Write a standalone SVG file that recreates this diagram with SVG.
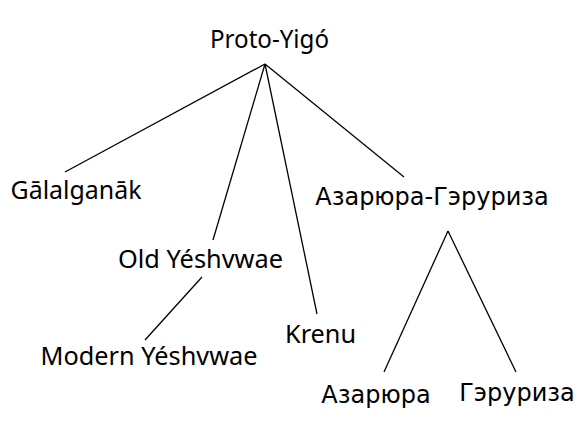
<svg xmlns="http://www.w3.org/2000/svg" width="580" height="427" viewBox="0 0 580 427">
<style>
text{font-family:"Noto Sans","Open Sans",sans-serif;font-size:25px;fill:#000;text-anchor:middle}
text.cy{font-family:"DejaVu Sans","Noto Sans",sans-serif;font-size:24px}
.edges line{stroke:#000;stroke-width:1.3;fill:none}
</style>
<rect width="580" height="427" fill="#fff"/>
<g class="edges" id="connectors">
<line x1="265" y1="64" x2="65" y2="172"/>
<line x1="265" y1="64" x2="213" y2="240"/>
<line x1="265" y1="64" x2="317" y2="314"/>
<line x1="265" y1="64" x2="404" y2="177"/>
<line x1="202" y1="277" x2="145" y2="340"/>
<line x1="448" y1="231" x2="384" y2="372"/>
<line x1="448" y1="231" x2="516" y2="372"/>
</g>
<g id="proto"><text x="269.5" y="48" textLength="119" lengthAdjust="spacingAndGlyphs">Proto-Yigó</text></g>
<g id="galalganak"><text x="76" y="199" textLength="131" lengthAdjust="spacingAndGlyphs">Gālalganāk</text></g>
<g id="old"><text x="200.5" y="268" textLength="165" lengthAdjust="spacingAndGlyphs">Old Yéshvwae</text></g>
<g id="modern"><text x="149" y="365" textLength="217" lengthAdjust="spacingAndGlyphs">Modern Yéshvwae</text></g>
<g id="krenu"><text x="320.5" y="343" textLength="71" lengthAdjust="spacingAndGlyphs">Krenu</text></g>
<g id="azgr"><text class="cy" x="432" y="205">Азарюра-Гэруриза</text></g>
<g id="az"><text class="cy" x="376" y="403">Азарюра</text></g>
<g id="gr"><text class="cy" x="517" y="401">Гэруриза</text></g>
</svg>
